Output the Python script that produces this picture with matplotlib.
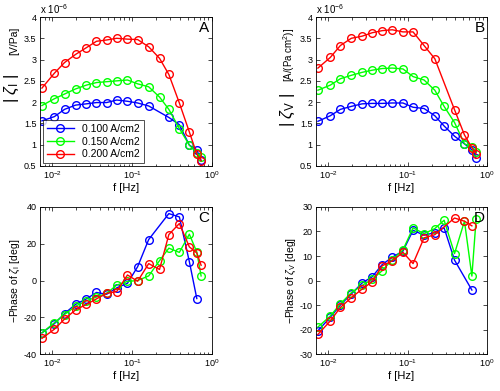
import numpy as np
import matplotlib
matplotlib.use('Agg')
import matplotlib.pyplot as plt
from matplotlib.ticker import FormatStrFormatter, LogLocator

plt.rcParams['font.family'] = ['Liberation Sans', 'DejaVu Sans']
plt.rcParams['mathtext.fontset'] = 'custom'
plt.rcParams['mathtext.rm'] = 'Liberation Sans'
plt.rcParams['mathtext.it'] = 'Liberation Sans:italic'

# frequencies [Hz]
freq = [0.0074, 0.0106, 0.0142, 0.0195, 0.0267, 0.0357, 0.0478, 0.064, 0.0873,
        0.117, 0.161, 0.22, 0.288, 0.39, 0.52, 0.645, 0.73]
labels = ['0.100 A/cm2', '0.150 A/cm2', '0.200 A/cm2']
colors = ['#0000ff', '#00ff00', '#ff0000']

# |zeta_I|, x 1e-6 V/Pa
zi_mag_100 = [1.56, 1.66, 1.83, 1.93, 1.96, 1.99, 1.99, 2.05, 2.02, 1.98, 1.91, None, 1.64, 1.47, 0.99, 0.88, 0.63]
zi_mag_150 = [1.92, 2.08, 2.19, 2.31, 2.40, 2.46, 2.48, 2.50, 2.52, 2.43, 2.36, 2.12, 1.83, 1.38, 0.99, 0.80, 0.72]
zi_mag_200 = [2.33, 2.68, 2.93, 3.12, 3.28, 3.43, 3.46, 3.50, 3.48, 3.47, 3.30, 3.03, 2.65, 1.98, 1.30, 0.78, 0.62]

# |zeta_V|, x 1e-6 A/(Pa cm2)
zv_mag_100 = [1.55, 1.68, 1.83, 1.90, 1.96, 1.97, 1.97, 1.98, 1.98, 1.88, 1.85, 1.68, 1.44, 1.20, 1.02, 0.88, 0.68]
zv_mag_150 = [2.28, 2.40, 2.55, 2.63, 2.70, 2.75, 2.79, 2.80, 2.78, 2.60, 2.52, 2.28, 1.90, 1.52, 1.02, 0.95, 0.82]
zv_mag_200 = [2.80, 3.05, 3.33, 3.50, 3.55, 3.63, 3.68, 3.70, 3.65, 3.65, 3.33, 3.02, None, 1.82, 1.23, 0.93, 0.78]

# -phase of zeta_I [deg]
zi_ph_100 = [-28.5, -23.5, -18, -13, -10, -6.5, -7.5, -4, -1.5, 7.5, 22.3, None, 36.4, 34.6, 10.3, -9.8, None]
zi_ph_150 = [-28.5, -23, -18.5, -14, -11, -9, -7, -2.5, -0.5, 0, 2.5, 10.8, 17.6, 15.3, 25.2, 15.5, 2.5]
zi_ph_200 = [-31.5, -26.5, -21, -16, -13, -10, -7, -6, 3, -0.4, 9.2, 6.0, 25.0, 31.0, 18.3, 15.0, 8.3]

# -phase of zeta_V [deg]
zv_ph_100 = [-20.5, -15, -10, -5.5, -1, 1.5, 6.5, 9.5, 12, 20.5, 18.5, 19.5, 21.5, 8.3, None, -3.9, None]
zv_ph_150 = [-19, -14.5, -9.5, -5, -2, 0.5, 4, 8.5, 12.5, 21.5, 19.1, 21.2, 24.6, 11.0, 24.2, 1.8, 25.3]
zv_ph_200 = [-22, -16.5, -11, -7, -3.5, -0.5, 6, 8, 11.5, 6.9, 17.4, 18.7, None, 25.5, 24.2, 22.3, None]


def draw(ax, series, ylim, yticks, letter):
    for vals, c, lab in zip(series, colors, labels):
        f = [x for x, v in zip(freq, vals) if v is not None]
        v = [v for v in vals if v is not None]
        ax.plot(f, v, '-o', color=c, lw=1.0, ms=5.5, mfc='none', mew=1.0, label=lab)
    ax.set_xscale('log')
    ax.set_xlim(0.007, 1)
    ax.set_ylim(*ylim)
    ax.set_yticks(yticks)
    ax.yaxis.set_major_formatter(FormatStrFormatter('%g'))
    ax.xaxis.set_major_locator(LogLocator(base=10, numticks=10))
    ax.tick_params(which='both', direction='in', top=True, right=True, labelsize=6.5, width=0.5, pad=2.5)
    ax.tick_params(which='major', length=3)
    ax.tick_params(which='minor', length=1.8)
    for s in ax.spines.values():
        s.set_linewidth(0.6)
    ax.set_xlabel('f [Hz]', fontsize=8, labelpad=1)
    ax.text(0.985, 0.975, letter, transform=ax.transAxes, ha='right', va='top', fontsize=11)


fig = plt.figure(figsize=(5.0, 3.91), dpi=100)
axA = fig.add_axes([0.080, 0.5755, 0.344, 0.381])
axB = fig.add_axes([0.632, 0.5755, 0.342, 0.381])
axC = fig.add_axes([0.080, 0.0946, 0.344, 0.376])
axD = fig.add_axes([0.632, 0.0946, 0.342, 0.376])

draw(axA, [zi_mag_100, zi_mag_150, zi_mag_200], (0.5, 4), np.arange(0.5, 4.01, 0.5), 'A')
draw(axB, [zv_mag_100, zv_mag_150, zv_mag_200], (0.5, 4), np.arange(0.5, 4.01, 0.5), 'B')
draw(axC, [zi_ph_100, zi_ph_150, zi_ph_200], (-40, 40), np.arange(-40, 41, 20), 'C')
draw(axD, [zv_ph_100, zv_ph_150, zv_ph_200], (-30, 30), np.arange(-30, 31, 10), 'D')

for ax in (axA, axB):
    ax.text(0.0, 1.01, r'x 10$^{-6}$', transform=ax.transAxes, ha='left', va='bottom', fontsize=7)

leg = axA.legend(loc='lower left', fontsize=7.5, frameon=True, fancybox=False,
                 edgecolor='black', borderaxespad=0.3, handlelength=2.6,
                 labelspacing=0.25, borderpad=0.35)
leg.get_frame().set_linewidth(0.6)

# y labels: large |zeta| part plus smaller units
axA.text(-0.165, 0.52, r'$|\ \zeta_{\rm I}\ |$', transform=axA.transAxes, rotation=90,
         ha='center', va='center', fontsize=12)
axA.text(-0.15, 0.84, '[V/Pa]', transform=axA.transAxes, rotation=90,
         ha='center', va='center', fontsize=7.5)
axB.text(-0.165, 0.38, r'$|\ \zeta_{\rm V}\ |$', transform=axB.transAxes, rotation=90,
         ha='center', va='center', fontsize=12)
axB.text(-0.155, 0.745, r'[A/(Pa cm$^2$)]', transform=axB.transAxes, rotation=90,
         ha='center', va='center', fontsize=7)

axC.set_ylabel(r'$-$Phase of $\zeta_{\rm I}$ [deg]', fontsize=7.5, labelpad=1)
axD.set_ylabel(r'$-$Phase of $\zeta_{\rm V}$ [deg]', fontsize=7.5, labelpad=1)

fig.savefig('out.png', dpi=100)
